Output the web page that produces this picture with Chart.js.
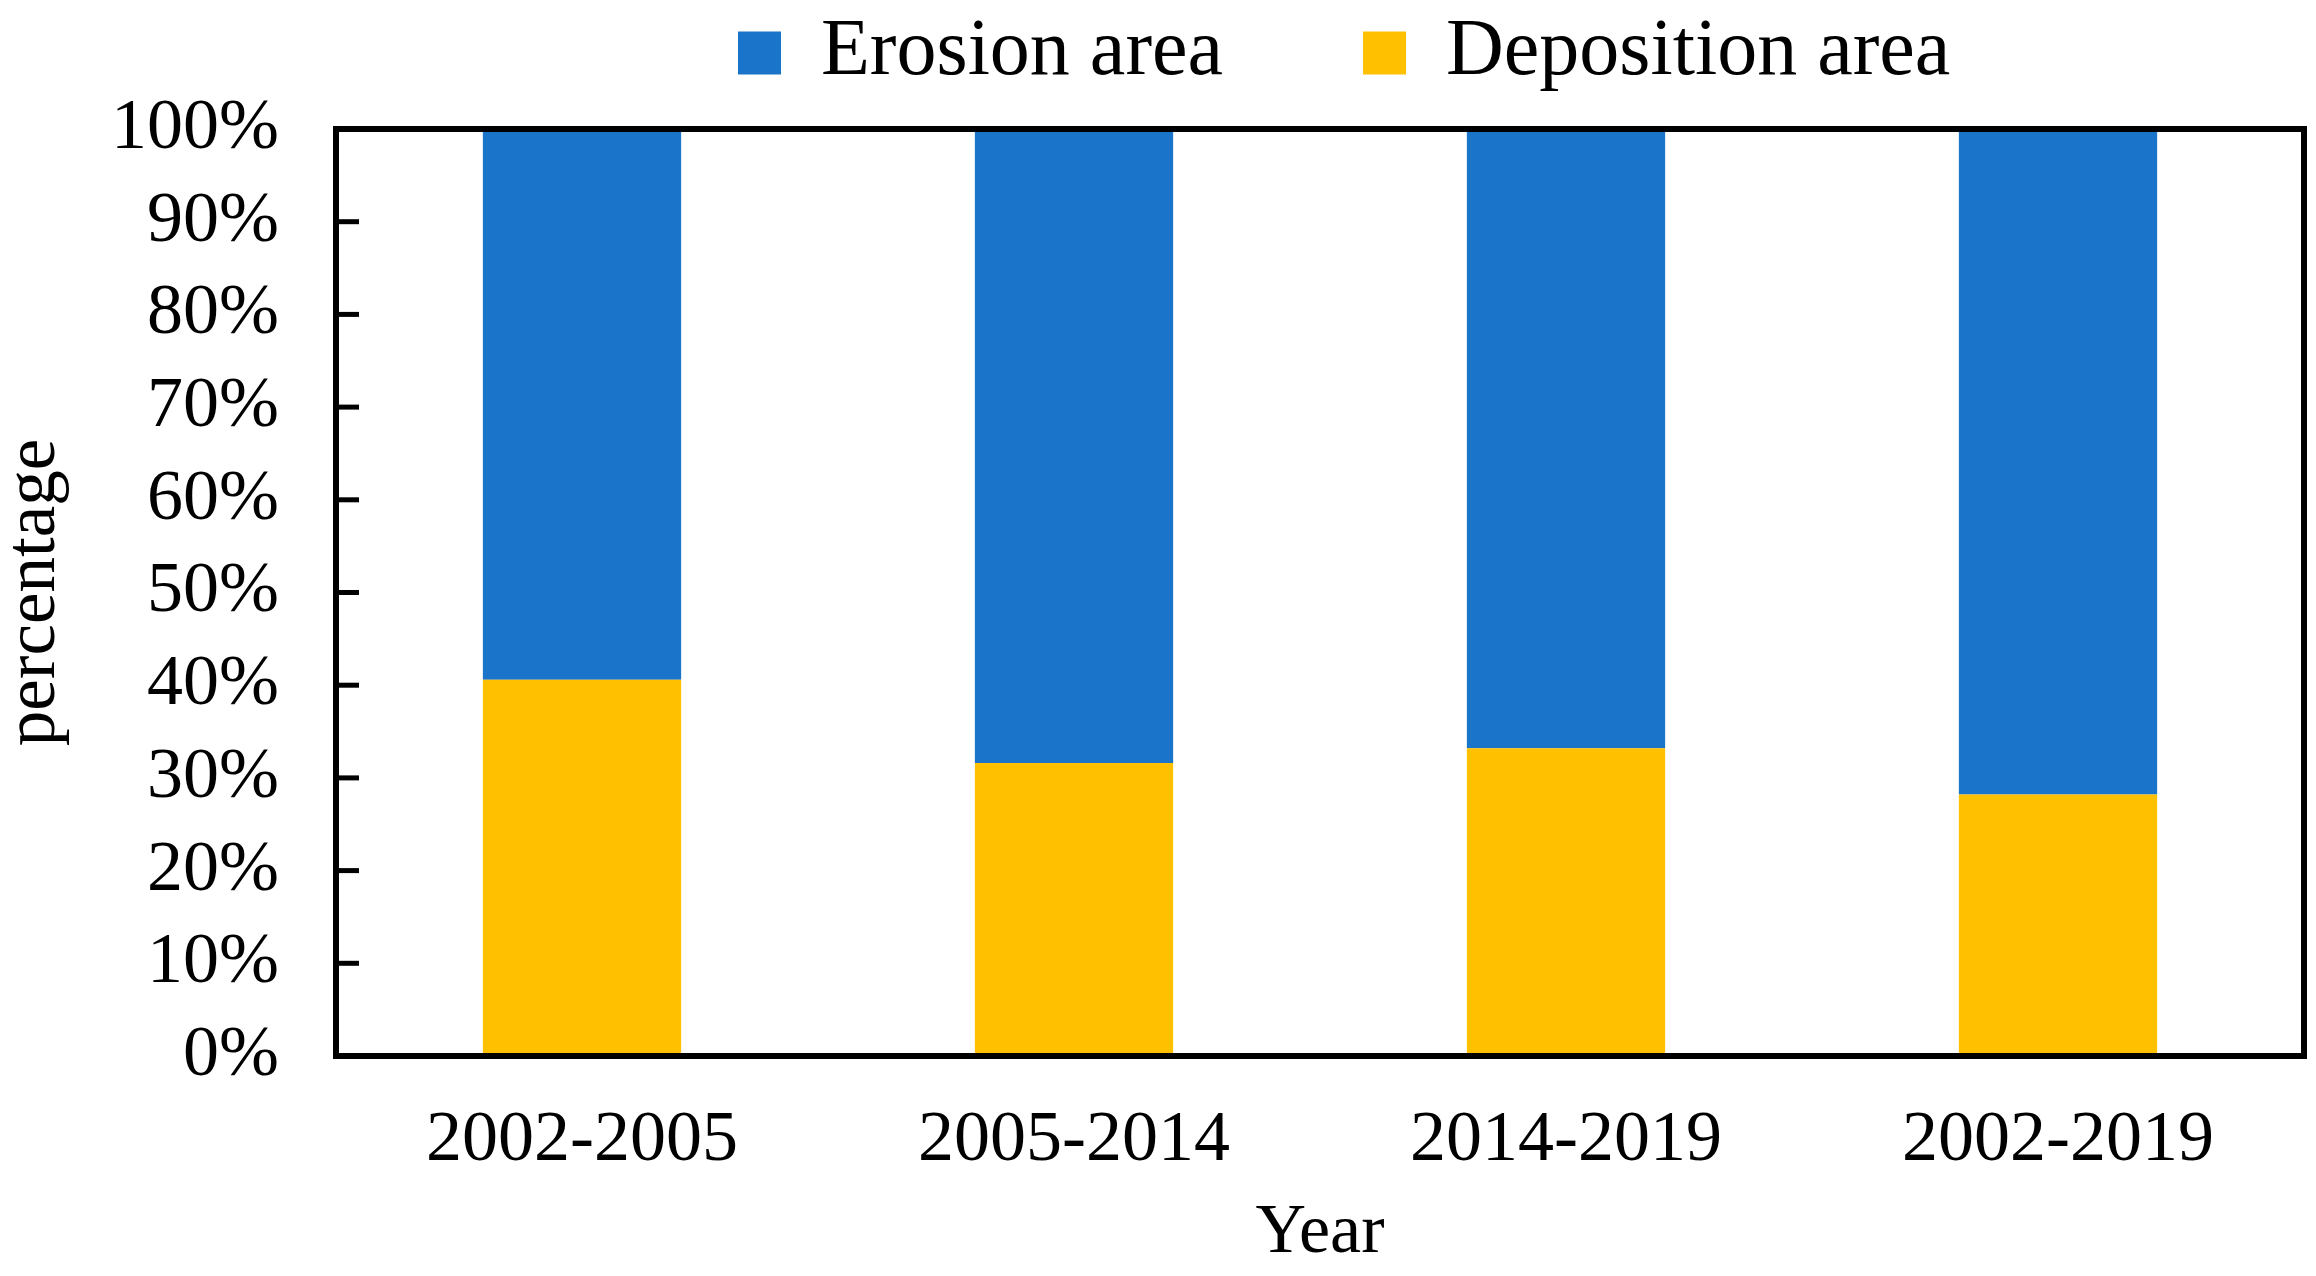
<!DOCTYPE html>
<html>
<head>
<meta charset="utf-8">
<script src="https://cdn.jsdelivr.net/npm/chart.js@4"></script>
<style>
  html, body { margin: 0; padding: 0; background: #fff; }
  #wrap { width: 2316px; height: 1276px; }
</style>
</head>
<body>
<div id="wrap"><canvas id="area-chart" width="2316" height="1276"></canvas></div>
<script>
// values (percent of total area)
const periods = ['2002-2005', '2005-2014', '2014-2019', '2002-2019'];
const depositionArea = [40.6, 31.6, 33.2, 28.2];
const erosionArea = [59.4, 68.4, 66.8, 71.8];
const yTickValues = [0, 10, 20, 30, 40, 50, 60, 70, 80, 90, 100];

const BLUE = '#1974CA';
const GOLD = '#FFC000';

Chart.defaults.font.family = "'Liberation Serif', 'Times New Roman', serif";
Chart.defaults.color = '#000';

// frame round the plot and the short inward ticks on the y axis
const framePlugin = {
    id: 'frame',
    beforeLayout(chart) {
        const lg = chart.legend;
        if (lg && !lg._patched) {
            const origFit = lg.fit.bind(lg);
            lg.fit = function() {
                origFit();
                this.height = 129;
            };
            lg._patched = true;
        }
    },
    afterLayout(chart) {
        const lg = chart.legend;
        const pad = lg.options.labels.padding;
        lg.top = 13 - pad;
        lg.left = 738 - pad;
    },
    afterDatasetsDraw(chart) {
        const ctx = chart.ctx;
        const area = chart.chartArea;
        const y = chart.scales.y;
        ctx.save();
        ctx.strokeStyle = '#000';
        ctx.lineWidth = 5;
        y.ticks.forEach(t => {
            if (t.value === 0 || t.value === 100) return;
            const py = y.getPixelForValue(t.value);
            ctx.beginPath();
            ctx.moveTo(area.left, py);
            ctx.lineTo(area.left + 23, py);
            ctx.stroke();
        });
        ctx.lineWidth = 6;
        ctx.strokeRect(area.left, area.top, area.right - area.left, area.bottom - area.top);
        ctx.restore();
    }
};

const ctx = document.getElementById('area-chart').getContext('2d');
const chart = new Chart(ctx, {
    type: 'bar',
    data: {
        labels: periods,
        datasets: [
            {
                label: 'Deposition area',
                data: depositionArea,
                backgroundColor: GOLD,
                borderWidth: 0
            },
            {
                label: 'Erosion area',
                data: erosionArea,
                backgroundColor: BLUE,
                borderWidth: 0
            }
        ]
    },
    options: {
        responsive: false,
        animation: false,
        devicePixelRatio: 1,
        layout: { padding: { left: 0, right: 12, top: 0, bottom: 0 } },
        datasets: {
            bar: { barPercentage: 0.403, categoryPercentage: 1 }
        },
        scales: {
            x: {
                stacked: true,
                grid: { display: false, drawTicks: false },
                border: { display: false },
                ticks: { font: { size: 72 }, padding: 42, maxRotation: 0 },
                title: {
                    display: true,
                    text: 'Year',
                    font: { size: 70 },
                    padding: { top: 0, bottom: 0 }
                },
                afterFit(scale) { scale.height = 220; }
            },
            y: {
                stacked: true,
                min: 0,
                max: 100,
                afterBuildTicks(scale) {
                    scale.ticks = yTickValues.map(v => ({ value: v }));
                },
                grid: { display: false, drawTicks: false },
                border: { display: false },
                ticks: {
                    font: { size: 72 },
                    padding: 57,
                    callback: v => v + '%'
                },
                title: {
                    display: true,
                    text: 'percentage',
                    font: { size: 71, lineHeight: 1.0 },
                    padding: { top: 0, bottom: 0 }
                },
                afterFit(scale) { scale.width = 336; }
            }
        },
        plugins: {
            legend: {
                display: true,
                position: 'top',
                align: 'start',
                reverse: true,
                labels: {
                    font: { size: 80 },
                    boxWidth: 43,
                    boxHeight: 43,
                    padding: 140
                }
            },
            tooltip: { enabled: false }
        }
    },
    plugins: [framePlugin]
});
</script>
</body>
</html>
